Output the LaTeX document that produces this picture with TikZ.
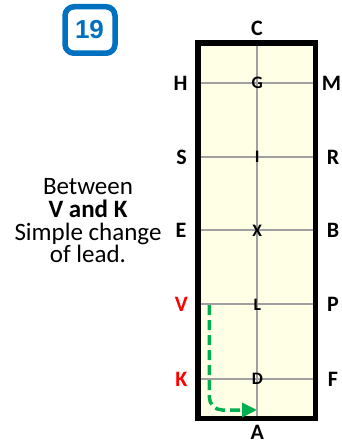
\documentclass[tikz,border=0pt]{standalone}
\usepackage{fontspec}
\setmainfont{Carlito}
\newfontfamily\badgefont{Liberation Sans}
\usetikzlibrary{arrows.meta}
\definecolor{arenafill}{HTML}{FFFFE6}
\definecolor{gridgray}{HTML}{A0A0A0}
\definecolor{pathgreen}{HTML}{00B050}
\definecolor{badgeblue}{HTML}{0070C0}
\definecolor{markred}{HTML}{FF0000}
\tikzset{
  outerletter/.style={font=\fontsize{22}{22}\selectfont\bfseries, inner sep=0pt, anchor=center},
  innerletter/.style={font=\fontsize{17.5}{17.5}\selectfont\bfseries, inner sep=0pt, anchor=center},
  redletter/.style={outerletter, text=markred},
  gridline/.style={draw=gridgray, line width=1.8pt},
  arenawall/.style={draw=black, line width=5.5pt, fill=arenafill},
  figurepath/.style={draw=pathgreen, line width=3.5pt, dash pattern=on 10pt off 5pt,
    rounded corners=13pt, -{Triangle[length=15pt, width=14pt]}},
  badge/.style={draw=badgeblue, line width=5.5pt, rounded corners=9pt},
  noteline/.style={font=\fontsize{25}{25}\selectfont, inner sep=0pt, anchor=base}
}
\begin{document}
\begin{tikzpicture}[x=1pt, y=-1pt]
  \useasboundingbox (0,0) rectangle (342,441);
  % badge with the figure number
  \draw[badge] (65,6.75) rectangle (115,53.25);
  \node[font=\badgefont\fontsize{26}{26}\selectfont\bfseries, text=badgeblue, inner sep=0pt] (num) at (89.5,30) {19};
  % arena
  \draw[arenawall] (198,43) rectangle (315.5,418.5);
  \coordinate (topmid) at (257.3,45.75);
  \coordinate (botmid) at (257.3,415.75);
  \draw[gridline] (topmid) -- (botmid);
  \foreach \y/\n in {82.7/1,156.7/2,230/3,304.3/4,378.7/5}{
    \coordinate (wl\n) at (200.75,\y);
    \coordinate (wr\n) at (312.75,\y);
    \draw[gridline] (wl\n) -- (wr\n);
  }
  % wall letters
  \node[outerletter] (C) at (257,28.3) {C};
  \node[outerletter] (A) at (257.3,432.6) {A};
  \node[outerletter] (H) at (180.5,83) {H};
  \node[outerletter] (M) at (331.5,83) {M};
  \node[outerletter] (S) at (181.5,157) {S};
  \node[outerletter] (R) at (333,157) {R};
  \node[outerletter] (E) at (181,230.5) {E};
  \node[outerletter] (B) at (333,230.5) {B};
  \node[redletter] (V) at (181.5,304.5) {V};
  \node[outerletter] (P) at (333,304.5) {P};
  \node[redletter] (K) at (181.5,379) {K};
  \node[outerletter] (F) at (333,379) {F};
  % centre-line letters
  \node[innerletter] (G) at (257.3,83) {G};
  \node[innerletter] (I) at (257.3,157) {I};
  \node[innerletter] (X) at (257.3,230.5) {X};
  \node[innerletter] (L) at (257.3,304.5) {L};
  \node[innerletter] (D) at (257.3,379) {D};
  % ridden track
  \coordinate (pstart) at (209.3,305);
  \coordinate (pend) at (257,410);
  \draw[figurepath] (pstart) |- (pend);
  % note
  \node[noteline] (note1) at (88,194) {Between};
  \node[noteline] (note2) at (88,217.5) {\bfseries V and K};
  \node[noteline] (note3) at (88,240) {Simple change};
  \node[noteline] (note4) at (88,262.5) {of lead.};
\end{tikzpicture}
\end{document}
